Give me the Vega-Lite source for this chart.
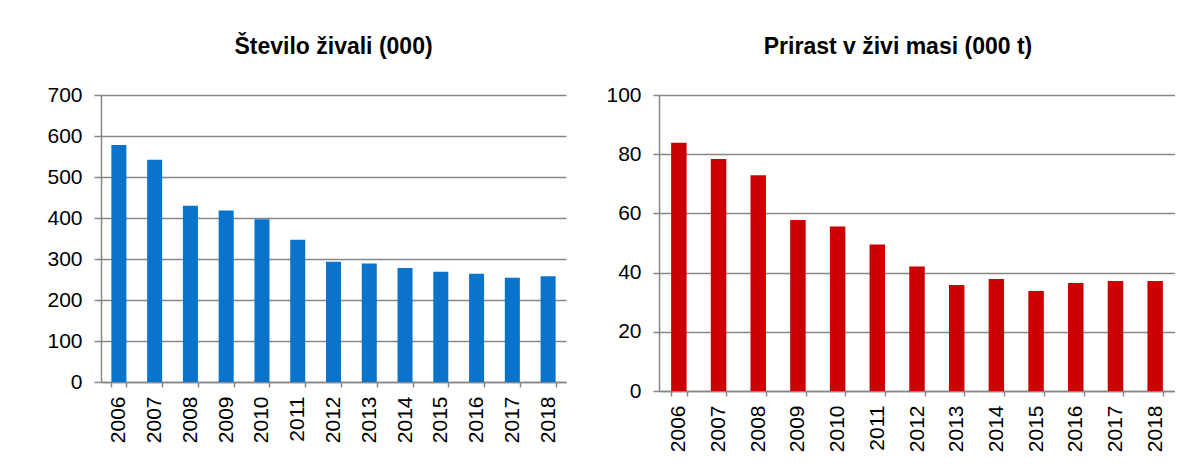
{
  "$schema": "https://vega.github.io/schema/vega-lite/v6.json",
  "padding": {"left": 46, "top": 36, "right": 0, "bottom": 0},
  "background": "white",
  "spacing": 39,
  "config": {
    "font": "Liberation Sans",
    "view": {"stroke": null},
    "axis": {
      "labelFont": "Liberation Sans",
      "labelFontSize": 21,
      "labelColor": "#000000",
      "domainColor": "#878787",
      "tickColor": "#878787",
      "gridColor": "#878787",
      "domainWidth": 1.5,
      "tickWidth": 1.5,
      "gridWidth": 1.5,
      "title": null
    },
    "title": {
      "font": "Liberation Sans",
      "fontSize": 23,
      "fontWeight": "bold",
      "color": "#000000",
      "frame": "group",
      "anchor": "middle",
      "offset": 25
    }
  },
  "hconcat": [
    {
      "width": 465,
      "height": 287,
      "title": {"text": "Število živali (000)"},
      "data": {
        "values": [
          {"leto": "2006", "vrednost": 578},
          {"leto": "2007", "vrednost": 542},
          {"leto": "2008", "vrednost": 430},
          {"leto": "2009", "vrednost": 418},
          {"leto": "2010", "vrednost": 397},
          {"leto": "2011", "vrednost": 347},
          {"leto": "2012", "vrednost": 293},
          {"leto": "2013", "vrednost": 289},
          {"leto": "2014", "vrednost": 278},
          {"leto": "2015", "vrednost": 269},
          {"leto": "2016", "vrednost": 264},
          {"leto": "2017", "vrednost": 254},
          {"leto": "2018", "vrednost": 258}
        ]
      },
      "mark": {"type": "bar", "color": "#0A73CC"},
      "encoding": {
        "x": {
          "field": "leto",
          "type": "ordinal",
          "scale": {"paddingInner": 0.58, "paddingOuter": 0.29},
          "axis": {"labelAngle": -90, "tickBand": "extent", "tickSize": 5, "labelPadding": 9, "grid": false}
        },
        "y": {
          "field": "vrednost",
          "type": "quantitative",
          "scale": {"domain": [0, 700], "nice": false},
          "axis": {"values": [0, 100, 200, 300, 400, 500, 600, 700], "tickSize": 7, "labelPadding": 12, "grid": true}
        }
      }
    },
    {
      "width": 516,
      "height": 296,
      "title": {"text": "Prirast v živi masi (000 t)", "dx": -19},
      "data": {
        "values": [
          {"leto": "2006", "vrednost": 83.9},
          {"leto": "2007", "vrednost": 78.4},
          {"leto": "2008", "vrednost": 72.9},
          {"leto": "2009", "vrednost": 57.8},
          {"leto": "2010", "vrednost": 55.6},
          {"leto": "2011", "vrednost": 49.5},
          {"leto": "2012", "vrednost": 42.1},
          {"leto": "2013", "vrednost": 35.8},
          {"leto": "2014", "vrednost": 37.8},
          {"leto": "2015", "vrednost": 33.8},
          {"leto": "2016", "vrednost": 36.5},
          {"leto": "2017", "vrednost": 37.2},
          {"leto": "2018", "vrednost": 37.2}
        ]
      },
      "mark": {"type": "bar", "color": "#CC0000"},
      "encoding": {
        "x": {
          "field": "leto",
          "type": "ordinal",
          "scale": {"paddingInner": 0.61, "paddingOuter": 0.305},
          "axis": {"labelAngle": -90, "tickBand": "extent", "tickSize": 5, "labelPadding": 9, "grid": false}
        },
        "y": {
          "field": "vrednost",
          "type": "quantitative",
          "scale": {"domain": [0, 100], "nice": false},
          "axis": {"values": [0, 20, 40, 60, 80, 100], "tickSize": 6, "labelPadding": 12, "grid": true}
        }
      }
    }
  ]
}
